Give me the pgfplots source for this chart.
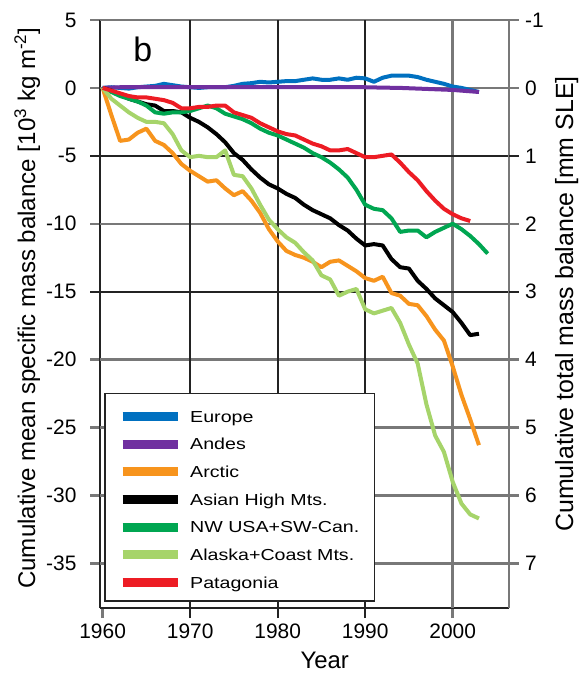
\documentclass[border=0pt]{standalone}
\usepackage{fontspec}
\setmainfont{Liberation Sans}
\newfontfamily\legendfont[FakeStretch=1.23]{Liberation Sans}
\usepackage{pgfplots}
\pgfplotsset{compat=1.18}
\definecolor{ceurope}{RGB}{0,112,192}
\definecolor{candes}{RGB}{112,48,160}
\definecolor{carctic}{RGB}{247,148,29}
\definecolor{cnw}{RGB}{0,166,81}
\definecolor{calaska}{RGB}{166,212,106}
\definecolor{cpat}{RGB}{237,28,36}
\definecolor{gridgray}{RGB}{120,120,120}
\definecolor{gridblack}{RGB}{35,35,35}
\pgfplotsset{
  common/.style={at={(0,0)}, anchor=south west, scale only axis,
    width=408.7bp, height=588bp, xmin=1959.7, xmax=2006.4},
  gridg/.style={draw=gridgray, line width=2.4bp, forget plot},
  gridb/.style={draw=gridblack, line width=1.8bp, forget plot},
}
\begin{document}
\begin{tikzpicture}
\useasboundingbox (-100bp,-65bp) rectangle (483bp,608bp);
\begin{axis}[common, ymin=-38.29, ymax=5, clip=false,
  axis x line*=bottom, axis y line*=left,
  axis line style={-, gridblack, line width=1.8bp},
  tick align=outside, major tick length=10bp,
  tick style={gridgray, line width=2.4bp},
  xtick={1960,2000}, extra x ticks={1970,1980,1990},
  extra x tick style={tick style={gridblack, line width=1.8bp}},
  ytick={5,0,-10,-20,-25,-30,-35}, extra y ticks={-5,-15},
  extra y tick style={tick style={gridblack, line width=1.8bp}},
  /pgf/number format/1000 sep={},
  /pgf/number format/assume math mode=true,
  ticklabel style={font=\fontsize{21}{21}\selectfont},
  yticklabel style={xshift=-10bp},
  xticklabel style={yshift=-2bp},
  xlabel={Year},
  xlabel style={font=\fontsize{24}{24}\selectfont, inner sep=0pt, at={(axis description cs:0.55,0)}, anchor=base, yshift=-60bp},
  ylabel={Cumulative mean specific mass balance [10\textsuperscript{3} kg m\textsuperscript{-2}]},
  ylabel style={font=\fontsize{24.2}{24.2}\selectfont, at={(axis description cs:-0.159,0.510)}, anchor=base},
  legend style={at={(axis description cs:0.011,0.011)}, anchor=south west,
    draw=gridblack, line width=1.5bp, fill=white,
    font=\legendfont\fontsize{16}{16}\selectfont,
    inner xsep=13bp, inner ysep=10.5bp, row sep=7.7bp,
    nodes={inner sep=2bp, text height=16bp, text depth=0bp}},
  legend cell align=left,
  legend image code/.code={\draw[#1, line width=9bp] (0bp,-2.3bp) -- (55bp,-2.3bp);},
  /tikz/every odd column/.append style={column sep=6bp},
]
% grid lines
\addplot[gridg] coordinates {(1959.7,5)(2006.4,5)};
\addplot[gridg] coordinates {(1959.7,0)(2006.4,0)};
\addplot[gridg] coordinates {(1959.7,-10)(2006.4,-10)};
\addplot[gridg] coordinates {(1959.7,-20)(2006.4,-20)};
\addplot[gridg] coordinates {(1959.7,-25)(2006.4,-25)};
\addplot[gridg] coordinates {(1959.7,-30)(2006.4,-30)};
\addplot[gridg] coordinates {(1959.7,-35)(2006.4,-35)};
\addplot[gridg] coordinates {(2000,-38.29)(2000,5)};
\addplot[gridb] coordinates {(1959.7,-5)(2006.4,-5)};
\addplot[gridb] coordinates {(1959.7,-15)(2006.4,-15)};
\addplot[gridb] coordinates {(1970,-38.29)(1970,5)};
\addplot[gridb] coordinates {(1980,-38.29)(1980,5)};
\addplot[gridb] coordinates {(1990,-38.29)(1990,5)};
% data
\addplot[ceurope, line width=4bp, line join=round] coordinates {(1960,0)(1961,0.05)(1962,0)(1963,-0.05)(1964,0.05)(1965,0.1)(1966,0.15)(1967,0.3)(1968,0.2)(1969,0.1)(1970,0.05)(1971,0)(1972,0.05)(1973,0.05)(1974,0.05)(1975,0.15)(1976,0.3)(1977,0.35)(1978,0.45)(1979,0.4)(1980,0.45)(1981,0.5)(1982,0.5)(1983,0.6)(1984,0.7)(1985,0.6)(1986,0.6)(1987,0.7)(1988,0.6)(1989,0.75)(1990,0.7)(1991,0.45)(1992,0.75)(1993,0.9)(1994,0.9)(1995,0.9)(1996,0.8)(1997,0.6)(1998,0.45)(1999,0.3)(2000,0.1)(2001,0)(2002,-0.15)(2003,-0.3)};
\addlegendentry{Europe}
\addplot[candes, line width=4bp, line join=round] coordinates {(1960,0)(1962,0.05)(1965,0.05)(1970,0.05)(1975,0.05)(1980,0.05)(1985,0.05)(1990,0.05)(1992,0.02)(1994,0)(1996,-0.05)(1998,-0.1)(2000,-0.15)(2001,-0.2)(2002,-0.25)(2003,-0.3)};
\addlegendentry{Andes}
\addplot[carctic, line width=4bp, line join=round] coordinates {(1960,0)(1961,-2.0)(1962,-3.9)(1963,-3.8)(1964,-3.3)(1965,-3.0)(1966,-3.9)(1967,-4.2)(1968,-4.8)(1969,-5.6)(1970,-6.1)(1971,-6.5)(1972,-6.9)(1973,-6.8)(1974,-7.4)(1975,-7.9)(1976,-7.6)(1977,-8.3)(1978,-9.2)(1979,-10.4)(1980,-11.3)(1981,-12.0)(1982,-12.3)(1983,-12.5)(1984,-12.8)(1985,-13.2)(1986,-12.8)(1987,-12.7)(1988,-13.1)(1989,-13.5)(1990,-14.0)(1991,-14.2)(1992,-13.9)(1993,-15.1)(1994,-15.3)(1995,-15.9)(1996,-16.0)(1997,-16.8)(1998,-17.8)(1999,-18.6)(2000,-20.5)(2001,-22.6)(2002,-24.4)(2003,-26.3)};
\addlegendentry{Arctic}
\addplot[black, line width=4bp, line join=round] coordinates {(1960,0)(1961,-0.2)(1962,-0.5)(1963,-0.8)(1964,-1.0)(1965,-1.2)(1966,-1.3)(1967,-1.7)(1968,-1.7)(1969,-1.8)(1970,-2.2)(1971,-2.5)(1972,-2.9)(1973,-3.4)(1974,-4.0)(1975,-4.8)(1976,-5.3)(1977,-6.0)(1978,-6.6)(1979,-7.1)(1980,-7.4)(1981,-7.8)(1982,-8.1)(1983,-8.6)(1984,-9.0)(1985,-9.3)(1986,-9.6)(1987,-10.1)(1988,-10.5)(1989,-11.1)(1990,-11.6)(1991,-11.5)(1992,-11.6)(1993,-12.6)(1994,-13.2)(1995,-13.3)(1996,-14.2)(1997,-14.8)(1998,-15.5)(1999,-16.0)(2000,-16.5)(2001,-17.3)(2002,-18.2)(2003,-18.1)};
\addlegendentry{Asian High Mts.}
\addplot[cnw, line width=4bp, line join=round] coordinates {(1960,0)(1961,-0.3)(1962,-0.6)(1963,-0.8)(1964,-1.0)(1965,-1.3)(1966,-1.8)(1967,-1.9)(1968,-1.8)(1969,-1.8)(1970,-1.7)(1971,-1.5)(1972,-1.3)(1973,-1.5)(1974,-1.9)(1975,-2.1)(1976,-2.3)(1977,-2.6)(1978,-3.0)(1979,-3.3)(1980,-3.5)(1981,-3.8)(1982,-4.1)(1983,-4.4)(1984,-4.8)(1985,-5.1)(1986,-5.5)(1987,-6.0)(1988,-6.6)(1989,-7.5)(1990,-8.6)(1991,-8.9)(1992,-9.0)(1993,-9.6)(1994,-10.6)(1995,-10.5)(1996,-10.5)(1997,-11.0)(1998,-10.6)(1999,-10.3)(2000,-10.0)(2001,-10.4)(2002,-10.9)(2003,-11.5)(2004,-12.2)};
\addlegendentry{NW USA+SW-Can.}
\addplot[calaska, line width=4bp, line join=round] coordinates {(1960,0)(1961,-0.8)(1962,-1.3)(1963,-1.8)(1964,-2.2)(1965,-2.5)(1966,-2.5)(1967,-2.6)(1968,-3.4)(1969,-4.6)(1970,-5.1)(1971,-5.0)(1972,-5.1)(1973,-5.1)(1974,-4.6)(1975,-6.4)(1976,-6.5)(1977,-7.4)(1978,-8.6)(1979,-9.7)(1980,-10.4)(1981,-11.0)(1982,-11.4)(1983,-12.1)(1984,-12.7)(1985,-13.8)(1986,-14.1)(1987,-15.3)(1988,-15.0)(1989,-14.8)(1990,-16.3)(1991,-16.6)(1992,-16.4)(1993,-16.2)(1994,-17.3)(1995,-18.9)(1996,-20.3)(1997,-23.3)(1998,-25.6)(1999,-26.8)(2000,-29.0)(2001,-30.6)(2002,-31.4)(2003,-31.7)};
\addlegendentry{Alaska+Coast Mts.}
\addplot[cpat, line width=4bp, line join=round] coordinates {(1960,0)(1961,-0.2)(1962,-0.4)(1963,-0.6)(1964,-0.7)(1965,-0.7)(1966,-0.8)(1967,-0.9)(1968,-1.1)(1969,-1.5)(1970,-1.5)(1971,-1.4)(1972,-1.4)(1973,-1.3)(1974,-1.3)(1975,-1.8)(1976,-2.0)(1977,-2.2)(1978,-2.6)(1979,-2.9)(1980,-3.2)(1981,-3.4)(1982,-3.5)(1983,-3.8)(1984,-4.1)(1985,-4.3)(1986,-4.6)(1987,-4.6)(1988,-4.5)(1989,-4.8)(1990,-5.1)(1991,-5.1)(1992,-5.0)(1993,-4.9)(1994,-5.5)(1995,-6.2)(1996,-6.8)(1997,-7.6)(1998,-8.3)(1999,-8.9)(2000,-9.3)(2001,-9.6)(2002,-9.8)};
\addlegendentry{Patagonia}
\node[font=\fontsize{34}{34}\selectfont] at (axis cs:1964.6,2.8) {b};
\end{axis}
\begin{axis}[common, ymin=-1, ymax=7.658, y dir=reverse,
  axis x line=none, axis y line*=right,
  axis line style={-, gridgray, line width=2.4bp},
  tick align=outside, major tick length=10bp,
  tick style={gridgray, line width=2.4bp},
  ytick={-1,0,2,4,5,6,7}, extra y ticks={1,3},
  extra y tick style={tick style={gridblack, line width=1.8bp}},
  /pgf/number format/assume math mode=true,
  ticklabel style={font=\fontsize{21}{21}\selectfont},
  yticklabel style={xshift=3bp},
  ylabel={Cumulative total mass balance [mm SLE]},
  ylabel style={font=\fontsize{25}{25}\selectfont, at={(axis description cs:1.1573,0.517)}, anchor=base},
]
\addplot[draw=none] coordinates {(1960,0)};
\end{axis}
\end{tikzpicture}
\end{document}
